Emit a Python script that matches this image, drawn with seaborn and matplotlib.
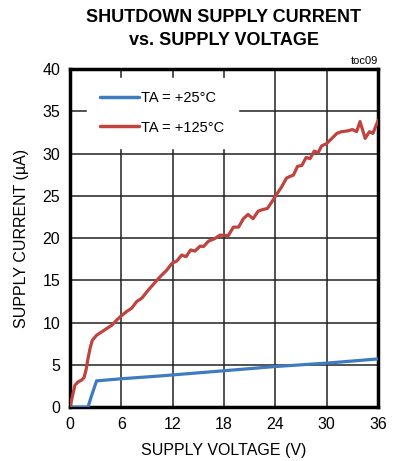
import numpy as np
import pandas as pd
import matplotlib
matplotlib.use("Agg")
import matplotlib.pyplot as plt
import seaborn as sns

# Data
v_25 = [0.0, 2.1, 2.5, 3.1, 6.0, 10.5, 18.0, 24.0, 30.0, 36.0]
i_25 = [0.0, 0.0, 1.3, 3.1, 3.35, 3.68, 4.3, 4.8, 5.2, 5.7]

v_125 = [0.0, 0.39, 0.58, 0.97, 1.37, 1.64, 1.87, 2.07, 2.34, 2.6, 3.1, 3.7, 4.3, 4.9,
         5.45, 6.0, 6.6, 7.2, 7.8, 8.4, 9.15, 9.8, 10.52, 11.3, 11.9, 12.5, 13.05, 13.56,
         14.1, 14.6, 15.2, 15.6, 16.2, 16.95, 17.5, 18.5, 19.1, 19.7, 20.26, 20.8, 21.4,
         22.0, 22.6, 23.06, 23.6, 24.15, 24.7, 25.3, 25.7, 26.1, 26.6, 27.1, 27.6, 28.05,
         28.55, 29.0, 29.4, 30.0, 30.6, 31.2, 31.75, 32.5, 33.0, 33.5, 33.9, 34.5, 35.0,
         35.4, 35.6, 36.0]
i_125 = [0.0, 1.8, 2.6, 3.0, 3.2, 3.5, 4.4, 5.6, 6.95, 7.9, 8.5, 8.9, 9.3, 9.7,
         10.3, 10.8, 11.3, 11.7, 12.5, 12.9, 13.85, 14.6, 15.42, 16.2, 17.0, 17.3, 18.0, 17.8,
         18.6, 18.46, 19.05, 19.0, 19.65, 19.96, 20.35, 20.3, 21.3, 21.3, 22.3, 22.8, 22.3,
         23.2, 23.4, 23.5, 24.3, 25.2, 26.0, 27.1, 27.3, 27.45, 28.5, 28.6, 29.55, 29.4,
         30.3, 30.1, 30.9, 31.2, 31.8, 32.4, 32.6, 32.7, 32.85, 32.6, 33.8, 31.8, 32.6,
         32.4, 32.9, 33.9]

labels = ["TA = +25°C", "TA = +125°C"]
x_ticks = [0, 6, 12, 18, 24, 30, 36]
y_ticks = [0, 5, 10, 15, 20, 25, 30, 35, 40]
colors = ["#3f7bc0", "#c0433f"]

df = pd.concat([
    pd.DataFrame({"V": v_25, "I": i_25, "series": labels[0]}),
    pd.DataFrame({"V": v_125, "I": i_125, "series": labels[1]}),
], ignore_index=True)

sns.set_style("white")
plt.rcParams["font.family"] = ["Liberation Sans", "DejaVu Sans"]
plt.rcParams["text.color"] = "black"
plt.rcParams["axes.labelcolor"] = "black"
plt.rcParams["xtick.color"] = "black"
plt.rcParams["ytick.color"] = "black"

fig = plt.figure(figsize=(4.12, 4.61), dpi=100)
ax = fig.add_axes([0.170, 0.117, 0.7475, 0.733])

sns.lineplot(data=df, x="V", y="I", hue="series", palette=colors, linewidth=2.3,
             sort=False, estimator=None, ax=ax, zorder=3)

ax.set_xlim(0, 36)
ax.set_ylim(0, 40)
ax.set_xticks(x_ticks)
ax.set_yticks(y_ticks)
ax.tick_params(axis="both", labelsize=11.5, length=0, pad=7)
ax.grid(True, color="#222222", linewidth=1.1)
ax.set_axisbelow(True)
for s in ax.spines.values():
    s.set_color("black")
    s.set_linewidth(2.5)
    s.set_visible(True)

ax.set_xlabel("SUPPLY VOLTAGE (V)", fontsize=11.5, labelpad=8)
ax.set_ylabel("SUPPLY CURRENT (µA)", fontsize=11.5, labelpad=10)

leg = ax.legend(loc="upper left", bbox_to_anchor=(0.03, 0.995), frameon=True,
                fontsize=10.5, handlelength=2.7, handletextpad=0.15, labelspacing=1.05,
                borderpad=0.9, fancybox=False)
leg.get_frame().set_facecolor("white")
leg.get_frame().set_edgecolor("white")
leg.get_frame().set_alpha(1)
leg.set_zorder(4)
for h in leg.get_lines():
    h.set_linewidth(2.5)

fig.text(0.543, 0.962, "SHUTDOWN SUPPLY CURRENT", ha="center", va="center",
         fontsize=13, fontweight="bold")
fig.text(0.543, 0.912, "vs. SUPPLY VOLTAGE", ha="center", va="center",
         fontsize=13, fontweight="bold")
fig.text(0.917, 0.868, "toc09", ha="right", va="center", fontsize=8)

fig.savefig("out.png", dpi=100)
